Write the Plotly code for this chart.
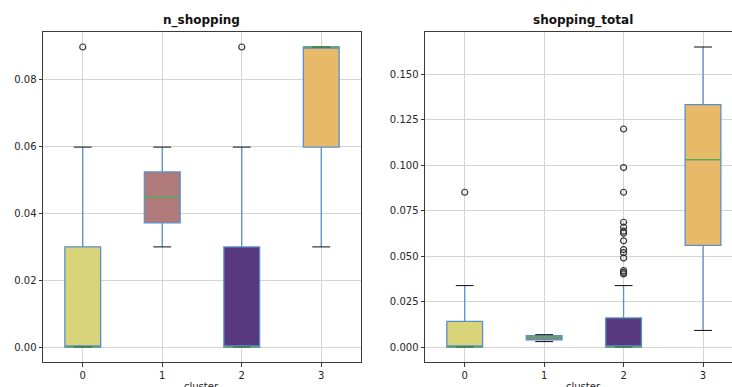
import plotly.graph_objects as go

# Cluster ids shared by both panels
clusters = [0, 1, 2, 3]
box_colors = ["#d9d47a", "#b07a7a", "#58387e", "#e8b968"]

# n_shopping: box statistics per cluster
n_q1 = [0.0, 0.0371, 0.0, 0.0597]
n_median = [0.0, 0.0447, 0.0, 0.0896]
n_q3 = [0.0299, 0.0523, 0.0299, 0.0896]
n_low = [0.0, 0.0299, 0.0, 0.0299]
n_high = [0.0597, 0.0597, 0.0597, 0.0896]
n_outliers = {0: [0.0896], 2: [0.0896]}

# shopping_total: box statistics per cluster
t_q1 = [0.0, 0.0039, 0.0, 0.0559]
t_median = [0.0, 0.0052, 0.0, 0.1031]
t_q3 = [0.0141, 0.0062, 0.0160, 0.1333]
t_low = [0.0, 0.0030, 0.0, 0.0091]
t_high = [0.0338, 0.0068, 0.0338, 0.1650]
t_outliers = {
    0: [0.0851],
    2: [0.1199, 0.0987, 0.0851, 0.0686, 0.0659, 0.0637, 0.0626, 0.0584,
        0.0536, 0.0519, 0.0490, 0.0420, 0.0410, 0.0402],
}

n_ticks = [0.0, 0.02, 0.04, 0.06, 0.08]
t_ticks = [0.0, 0.025, 0.05, 0.075, 0.1, 0.125, 0.15]

W, H = 732, 387
BOX_W = 0.45
CAP_W = 0.225
EDGE = "#5b8fc7"
WHISKER = "#3f7fc0"
MEDIAN = "#4caf50"

fig = go.Figure()


def add_panel(xa, ya, q1, med, q3, lo, hi, outliers):
    for i, c in enumerate(clusters):
        fig.add_trace(go.Box(
            x=[c], q1=[q1[i]], median=[med[i]], q3=[q3[i]],
            lowerfence=[lo[i]], upperfence=[hi[i]],
            width=BOX_W, whiskerwidth=0, boxpoints=False,
            fillcolor=box_colors[i], line=dict(color=EDGE, width=1.3),
            xaxis=xa, yaxis=ya, showlegend=False, hoverinfo="skip",
        ))
    # whisker caps (black) and medians (green)
    cx, cy = [], []
    mx, my = [], []
    for i, c in enumerate(clusters):
        for v in (lo[i], hi[i]):
            cx += [c - CAP_W / 2, c + CAP_W / 2, None]
            cy += [v, v, None]
        mx += [c - BOX_W / 2, c + BOX_W / 2, None]
        my += [med[i], med[i], None]
    fig.add_trace(go.Scatter(x=cx, y=cy, mode="lines",
                             line=dict(color="#222222", width=1.1),
                             xaxis=xa, yaxis=ya, showlegend=False,
                             hoverinfo="skip"))
    fig.add_trace(go.Scatter(x=mx, y=my, mode="lines",
                             line=dict(color=MEDIAN, width=1.2),
                             xaxis=xa, yaxis=ya, showlegend=False,
                             hoverinfo="skip"))
    ox, oy = [], []
    for c, vals in outliers.items():
        ox += [c] * len(vals)
        oy += vals
    fig.add_trace(go.Scatter(x=ox, y=oy, mode="markers",
                             marker=dict(symbol="circle-open", size=6,
                                         color="#333333",
                                         line=dict(width=1.2)),
                             xaxis=xa, yaxis=ya, showlegend=False,
                             hoverinfo="skip"))


add_panel("x", "y", n_q1, n_median, n_q3, n_low, n_high, n_outliers)
add_panel("x2", "y2", t_q1, t_median, t_q3, t_low, t_high, t_outliers)

font = dict(family="DejaVu Sans", size=10, color="#262626")
axis_common = dict(
    showgrid=True, gridcolor="#d4d4d4", gridwidth=0.8, zeroline=False,
    showline=True, linecolor="#3a3a3a", linewidth=1,
    ticks="outside", ticklen=3.5, tickwidth=0.8, tickcolor="#3a3a3a",
    tickfont=font,
)

top_px, bot_px = 32, 362
fig.update_layout(
    width=W, height=H,
    margin=dict(l=0, r=0, t=top_px, b=H - bot_px),
    plot_bgcolor="white", paper_bgcolor="white",
    boxmode="overlay",
    xaxis=dict(domain=[43 / W, 361 / W], range=[-0.5, 3.5],
               tickvals=clusters, ticktext=[str(c) for c in clusters],
               mirror=True, anchor="y", **axis_common),
    yaxis=dict(domain=[0, 1], range=[-0.00448, 0.09408],
               tickvals=n_ticks, ticktext=[f"{v:.2f}" for v in n_ticks],
               mirror=True, anchor="x", **axis_common),
    xaxis2=dict(domain=[425 / W, 1.0], range=[-0.5, 3.365],
                tickvals=clusters, ticktext=[str(c) for c in clusters],
                mirror=True, anchor="y2", **axis_common),
    yaxis2=dict(domain=[0, 1], range=[-0.00825, 0.17325],
                tickvals=t_ticks, ticktext=[f"{v:.3f}" for v in t_ticks],
                mirror=False, anchor="x2", **axis_common),
)

plot_h = bot_px - top_px
title_y = 1 + (top_px - 21) / plot_h
label_y = -(380 - bot_px) / plot_h
for cx, title in ((202 / W, "n_shopping"), (583 / W, "shopping_total")):
    fig.add_annotation(x=cx, y=title_y, xref="paper", yref="paper",
                       text=f"<b>{title}</b>", showarrow=False,
                       font=dict(family="DejaVu Sans", size=12, color="#111111"),
                       xanchor="center", yanchor="middle")
    fig.add_annotation(x=cx, y=label_y, xref="paper", yref="paper",
                       text="cluster", showarrow=False, font=font,
                       xanchor="center", yanchor="top", borderpad=0)

fig.write_html("out.html")
